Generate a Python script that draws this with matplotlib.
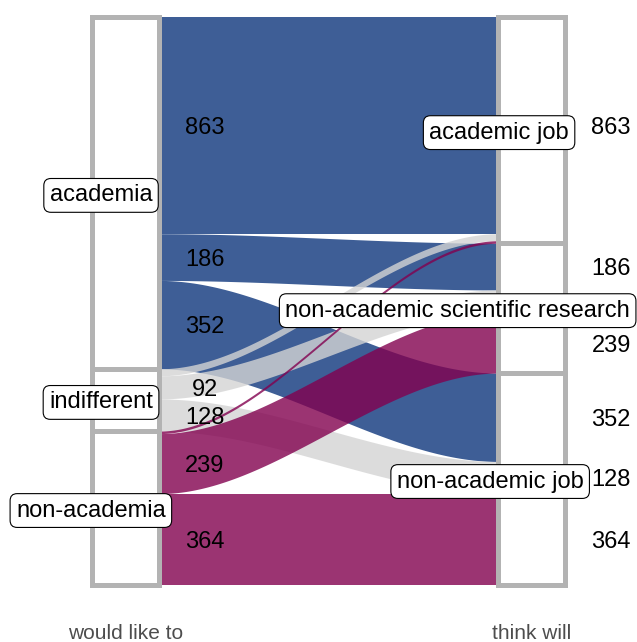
import numpy as np
import matplotlib.pyplot as plt
from matplotlib.patches import Rectangle

plt.rcParams['font.family'] = ['Liberation Sans', 'DejaVu Sans']

# categories on the two axes
would_like = ['academia', 'indifferent', 'non-academia']
think_will = ['academic job', 'non-academic scientific research', 'non-academic job']
axis_labels = ['would like to', 'think will']

# counts from each "would like to" group to each "think will" group
academia = [863, 186, 352]
indifferent = [28, 92, 128]
non_academia = [10, 239, 364]

colors = ['#0D367C', '#D4D4D4', '#82014F']

counts = np.array([academia, indifferent, non_academia])
total = counts.sum()
w = 1 / 6   # stratum width

fig = plt.figure(figsize=(6.37, 6.42), dpi=100)
ax = fig.add_axes([0, 1 - 612 / 642, 1, 612 / 642])
px = 568 / total  # pixels per count
ax.set_xlim(1 - 125.5 / 406.5, 2 + (637 - 531.5) / 406.5)
ax.set_ylim((612 - 17) / px, -17 / px)

# stacked positions: left ordered by destination, right ordered by origin
left_top = np.zeros_like(counts, dtype=float)
right_top = np.zeros_like(counts, dtype=float)
y = 0
for i in range(3):
    for j in range(3):
        left_top[i, j] = y
        y += counts[i, j]
y = 0
for j in range(3):
    for i in range(3):
        right_top[i, j] = y
        y += counts[i, j]

# flows
xa, xb = 1 + w / 2, 2 - w / 2
xs = np.linspace(xa, xb, 200)
t = (xs - xa) / (xb - xa)
s = 3 * t ** 2 - 2 * t ** 3
for i in range(3):
    for j in range(3):
        top = left_top[i, j] + (right_top[i, j] - left_top[i, j]) * s
        ax.fill_between(xs, top, top + counts[i, j], color=colors[i],
                        alpha=0.8, lw=0, zorder=1)

# count labels next to each stratum (small flows unlabelled,
# the right-hand 92 sits behind the research label in the original)
for i in range(3):
    for j in range(3):
        if counts[i, j] < 50:
            continue
        ax.text(1.196, left_top[i, j] + counts[i, j] / 2, str(counts[i, j]),
                ha='center', va='center_baseline', fontsize=17, zorder=2)
        if i == 1 and j == 1:
            continue
        ax.text(2.196, right_top[i, j] + counts[i, j] / 2, str(counts[i, j]),
                ha='center', va='center_baseline', fontsize=17, zorder=2)

# strata boxes
left_sizes = counts.sum(axis=1)
right_sizes = counts.sum(axis=0)
for xpos, sizes in [(1, left_sizes), (2, right_sizes)]:
    y0 = 0
    for size in sizes:
        ax.add_patch(Rectangle((xpos - w / 2, y0), w, size, fc='white',
                               ec='#B3B3B3', lw=3.6, zorder=3))
        y0 += size

# stratum labels
left_label_x = [0.94, 0.94, 0.915]
right_label_x = [1.92, 1.818, 1.898]
box = dict(boxstyle='round,pad=0.25,rounding_size=0.3', fc='white', ec='black', lw=0.8)
ystarts = np.concatenate([[0], np.cumsum(left_sizes)[:-1]])
for k, name in enumerate(would_like):
    ax.text(left_label_x[k], ystarts[k] + left_sizes[k] / 2, name, ha='center',
            va='center_baseline', fontsize=17, bbox=box, zorder=4)
ystarts = np.concatenate([[0], np.cumsum(right_sizes)[:-1]])
for k, name in enumerate(think_will):
    ax.text(right_label_x[k], ystarts[k] + right_sizes[k] / 2, name, ha='center',
            va='center_baseline', fontsize=17, bbox=box, zorder=4)

ax.set_xticks([1, 2])
ax.set_xticklabels(axis_labels, fontsize=15, color='#4D4D4D')
ax.tick_params(axis='x', length=0, pad=8.5)
ax.set_yticks([])
for sp in ax.spines.values():
    sp.set_visible(False)

fig.savefig('out.png', dpi=100)
